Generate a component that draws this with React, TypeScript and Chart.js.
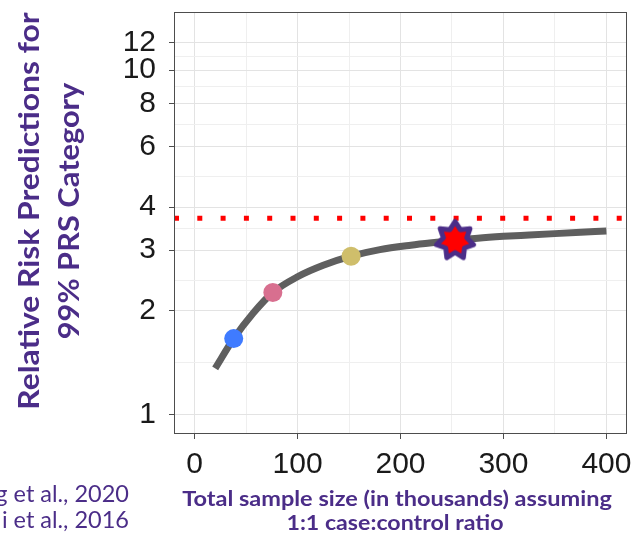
import React, { useEffect, useLayoutEffect, useRef } from 'react';
import { Chart, registerables } from 'chart.js';

Chart.register(...registerables);

// ---- data ----
const curveX = [20, 38, 57, 76, 100, 125, 152, 180, 210, 235, 253, 275, 300, 325, 350, 375, 400];
const curveY = [1.36, 1.66, 1.97, 2.26, 2.51, 2.71, 2.88, 3.01, 3.1, 3.16, 3.2, 3.25, 3.29, 3.32, 3.35, 3.38, 3.41];
const studyX = [38, 76, 152];
const studyY = [1.66, 2.26, 2.88];
const studyColors = ['#3f7bff', '#d86f8f', '#cfbe6b'];
const starX = [253];
const starY = [3.2];
const thresholdX = [-20, 420];
const thresholdY = 3.71;
const xMajorTicks = [0, 100, 200, 300, 400];
const xMinorTicks = [50, 150, 250, 350];
const yMajorTicks = [1, 2, 3, 4, 6, 8, 10, 12];
const yMinorTicks = [1.414, 2.449, 3.464, 4.899, 6.928, 8.944, 10.954];

const PURPLE = '#4b2d88';

function makeStar(): HTMLCanvasElement {
  const s = 52;
  const c = document.createElement('canvas');
  c.width = s;
  c.height = s;
  const ctx = c.getContext('2d')!;
  const cx = s / 2, cy = s / 2, R = 19, r = 12, n = 7;
  ctx.beginPath();
  for (let i = 0; i < 2 * n; i++) {
    const ang = -Math.PI / 2 + (i * Math.PI) / n;
    const rad = i % 2 === 0 ? R : r;
    ctx.lineTo(cx + rad * Math.cos(ang), cy + rad * Math.sin(ang));
  }
  ctx.closePath();
  ctx.fillStyle = '#ff0000';
  ctx.fill();
  ctx.lineJoin = 'round';
  ctx.lineWidth = 5;
  ctx.strokeStyle = PURPLE;
  ctx.stroke();
  return c;
}

const panelBorder = {
  id: 'panelBorder',
  afterDatasetsDraw(chart: any) {
    const { ctx, chartArea: a } = chart;
    ctx.save();
    ctx.strokeStyle = '#4d4d4d';
    ctx.lineWidth = 1;
    ctx.strokeRect(a.left + 0.5, a.top + 0.5, a.right - a.left - 1, a.bottom - a.top - 1);
    ctx.restore();
  },
};

const noPad = (s: any) => {
  s.paddingTop = 0;
  s.paddingBottom = 0;
  s.paddingLeft = 0;
  s.paddingRight = 0;
};

function FitText(props: {
  text: string; cx: number; cy: number; width: number; size: number;
  weight: number; rotate?: number; color: string;
}) {
  const ref = useRef<HTMLSpanElement>(null);
  const rot = props.rotate || 0;
  useLayoutEffect(() => {
    const el = ref.current!;
    const w = el.offsetWidth;
    const k = w > 0 ? props.width / w : 1;
    el.style.transform = `translate(-50%, -50%) rotate(${rot}deg) scaleX(${k})`;
  }, []);
  return (
    <span
      ref={ref}
      style={{
        position: 'absolute',
        left: props.cx,
        top: props.cy - 0.0285 * props.size,
        whiteSpace: 'nowrap',
        fontFamily: 'Lato, "Open Sans", sans-serif',
        fontWeight: props.weight,
        fontSize: props.size,
        lineHeight: `${props.size}px`,
        color: props.color,
        transformOrigin: 'center',
        transform: `translate(-50%, -50%) rotate(${rot}deg)`,
      }}
    >
      {props.text}
    </span>
  );
}

export default function App() {
  const canvasRef = useRef<HTMLCanvasElement>(null);

  useEffect(() => {
    const star = makeStar();
    const chart = new Chart(canvasRef.current!, {
      type: 'scatter',
      data: {
        datasets: [
          {
            label: 'Current study',
            data: starX.map((x, i) => ({ x, y: starY[i] })),
            pointStyle: star as any,
            pointRadius: 20,
            order: 0,
          },
          {
            label: 'Previous studies',
            data: studyX.map((x, i) => ({ x, y: studyY[i] })),
            pointBackgroundColor: studyColors,
            backgroundColor: studyColors,
            pointBorderWidth: 0,
            borderWidth: 0,
            pointRadius: 9.5,
            order: 1,
          },
          {
            label: 'Projection',
            data: curveX.map((x, i) => ({ x, y: curveY[i] })),
            showLine: true,
            borderColor: '#5f5f5f',
            borderWidth: 7,
            pointRadius: 0,
            cubicInterpolationMode: 'monotone',
            borderCapStyle: 'butt',
            order: 2,
          } as any,
          {
            label: 'Threshold',
            data: thresholdX.map((x) => ({ x, y: thresholdY })),
            showLine: true,
            borderColor: '#ff0000',
            borderWidth: 5,
            borderDash: [5, 18.3],
            borderCapStyle: 'butt',
            pointRadius: 0,
            order: 3,
          } as any,
        ],
      },
      options: {
        animation: false,
        responsive: false,
        events: [],
        layout: { autoPadding: false, padding: { top: 12, right: 9, left: 0, bottom: 0 } },
        plugins: { legend: { display: false }, tooltip: { enabled: false } },
        scales: {
          x: {
            type: 'linear',
            min: -20,
            max: 420,
            afterFit: (s: any) => { s.height = 100; noPad(s); },
            afterBuildTicks: (s: any) => {
              s.ticks = [...xMajorTicks, ...xMinorTicks].sort((a, b) => a - b).map((v) => ({ value: v }));
            },
            ticks: {
              autoSkip: false,
              maxRotation: 0,
              padding: 8,
              color: '#1a1a1a',
              font: { family: 'Liberation Sans', size: 30 },
              callback: (v: any) => (xMajorTicks.includes(Number(v)) ? String(v) : ''),
            },
            grid: {
              color: (c: any) => (xMajorTicks.includes(c.tick?.value) ? '#e3e3e3' : '#efefef'),
              tickColor: (c: any) => (xMajorTicks.includes(c.tick?.value) ? '#4d4d4d' : 'rgba(0,0,0,0)'),
              tickLength: 5,
              lineWidth: 1,
            },
            border: { display: false },
          },
          y: {
            type: 'logarithmic',
            min: 0.877,
            max: 14.75,
            afterFit: (s: any) => { s.width = 174; noPad(s); },
            afterBuildTicks: (s: any) => {
              s.ticks = [...yMajorTicks, ...yMinorTicks].sort((a, b) => a - b).map((v) => ({ value: v }));
            },
            ticks: {
              autoSkip: false,
              padding: 13,
              color: '#1a1a1a',
              font: { family: 'Liberation Sans', size: 30 },
              callback: (v: any) => (yMajorTicks.includes(Number(v)) ? String(v) : ''),
            },
            grid: {
              color: (c: any) => (yMajorTicks.includes(c.tick?.value) ? '#e3e3e3' : '#efefef'),
              tickColor: (c: any) => (yMajorTicks.includes(c.tick?.value) ? '#4d4d4d' : 'rgba(0,0,0,0)'),
              tickLength: 5,
              lineWidth: 1,
            },
            border: { display: false },
          },
        },
      },
      plugins: [panelBorder],
    } as any);
    return () => chart.destroy();
  }, []);

  return (
    <div style={{ position: 'fixed', left: 0, top: 0, width: 636, height: 534, overflow: 'hidden', background: '#ffffff' }}>
      <canvas ref={canvasRef} width={636} height={534} style={{ position: 'absolute', left: 0, top: 0, display: 'block' }} />
      <FitText text="Relative Risk Predictions for" cx={27} cy={211.5} width={397} size={29} weight={700} rotate={-90} color={PURPLE} />
      <FitText text="99% PRS Category" cx={67} cy={211.5} width={257} size={29} weight={700} rotate={-90} color={PURPLE} />
      <FitText text="Total sample size (in thousands) assuming" cx={396.7} cy={497.2} width={430} size={21} weight={700} color={PURPLE} />
      <FitText text="1:1 case:control ratio" cx={395} cy={523.5} width={216.7} size={21.5} weight={700} color={PURPLE} />
      <span style={{ position: 'absolute', right: 507, top: 494.5 - 0.5285 * 23.5, fontFamily: 'Lato, sans-serif', fontSize: 23.5, lineHeight: '23.5px', color: PURPLE, whiteSpace: 'nowrap' }}>g et al., 2020</span>
      <span style={{ position: 'absolute', right: 507, top: 520.7 - 0.5285 * 23.5, fontFamily: 'Lato, sans-serif', fontSize: 23.5, lineHeight: '23.5px', color: PURPLE, whiteSpace: 'nowrap' }}>i et al., 2016</span>
    </div>
  );
}
